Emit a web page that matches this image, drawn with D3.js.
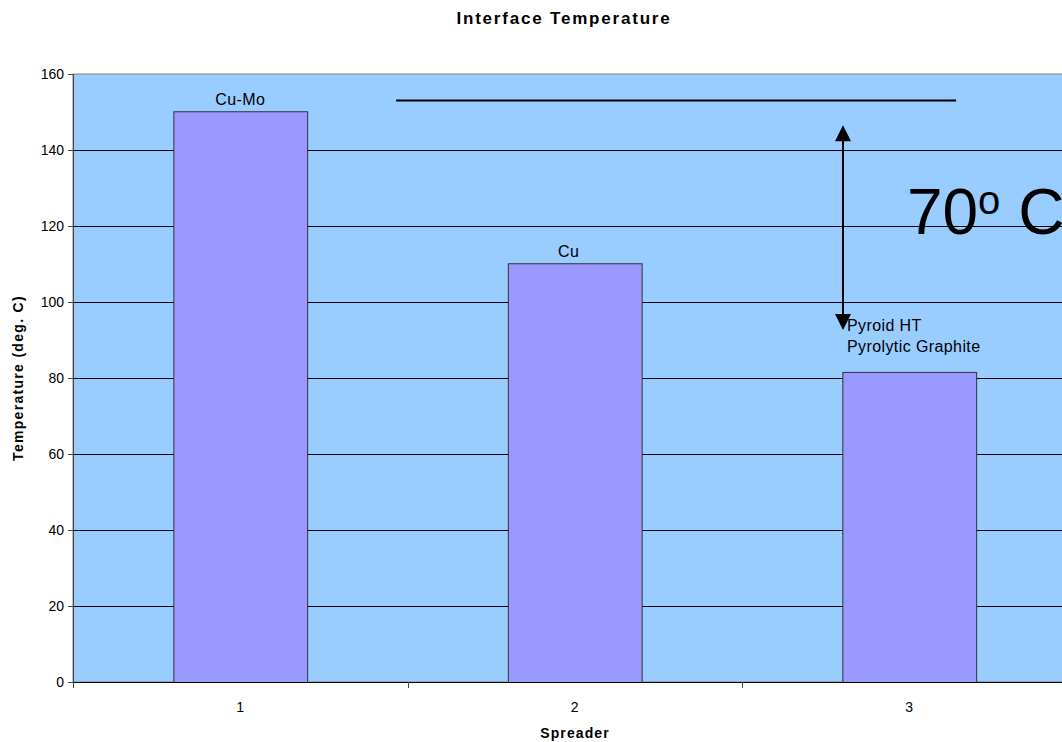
<!DOCTYPE html>
<html><head><meta charset="utf-8">
<script src="https://cdn.jsdelivr.net/npm/d3@7"></script>
<style>body{margin:0;background:#fff}svg{display:block;font-family:Arial,"Liberation Sans",sans-serif}</style>
</head><body>
<svg id="c" width="1062" height="742"></svg>
<script>
const categories = ["1","2","3"];
const values = [150.2, 110.2, 81.6];
const barLabels = [["Cu-Mo"],["Cu"],["Pyroid HT","Pyrolytic Graphite"]];
const yTicks = [0,20,40,60,80,100,120,140,160];
const refLineValue = 153;
const refLineSpan = [0.966, 2.64];
const arrowX = 2.302;
const arrowSpan = [146.5, 92.6];
const deltaText = {x: 2.493, y: 118, main: "70", sup: "o", unit: " C"};

const svg = d3.select("#c");
const m = {l:73, t:74, r:1076.5, b:682};
const x = d3.scaleBand().domain(categories).range([m.l, m.r]).paddingInner(0.6).paddingOuter(0.3);
const xb = d3.scaleBand().domain(categories).range([m.l, m.r]);
const xl = d3.scaleLinear().domain([0,3]).range([m.l, m.r]);
const y = d3.scaleLinear().domain([0,160]).range([m.b, m.t]);

svg.append("rect").attr("x",m.l).attr("y",m.t).attr("width",m.r-m.l).attr("height",m.b-m.t)
  .attr("fill","#99CCFF").attr("stroke","#808080").attr("stroke-width",1);

svg.append("g").selectAll("line").data(yTicks.filter(d=>d>0&&d<160)).join("line")
  .attr("x1",m.l).attr("x2",m.r).attr("y1",d=>y(d)+0.5).attr("y2",d=>y(d)+0.5)
  .attr("stroke","#000").attr("stroke-width",1);

svg.append("g").selectAll("rect").data(values).join("rect")
  .attr("x",(d,i)=>x(categories[i])+0.5).attr("y",d=>y(d)+0.5)
  .attr("width",x.bandwidth()).attr("height",d=>m.b-y(d))
  .attr("fill","#9999FF").attr("stroke","#333").attr("stroke-width",1);

// axes
const ya = svg.append("g").attr("transform",`translate(${m.l},0)`)
  .call(d3.axisLeft(y).tickValues(yTicks).tickSize(5).tickPadding(4));
ya.select(".domain").attr("stroke","#444");
ya.selectAll(".tick line").attr("stroke","#444");
ya.selectAll("text").attr("font-size",14).attr("fill","#000").attr("font-family","Arial,'Liberation Sans',sans-serif");

const xa = svg.append("g").attr("transform",`translate(0,${m.b})`);
xa.append("line").attr("x1",m.l).attr("x2",m.r).attr("y1",0.5).attr("y2",0.5).attr("stroke","#000");
xa.selectAll("line.t").data(categories.concat(["end"])).join("line").attr("class","t")
  .attr("x1",(d,i)=>Math.round(m.l+i*xb.bandwidth())+0.5).attr("x2",(d,i)=>Math.round(m.l+i*xb.bandwidth())+0.5)
  .attr("y1",0).attr("y2",6).attr("stroke","#444");
xa.selectAll("text").data(categories).join("text")
  .attr("x",d=>xb(d)+xb.bandwidth()/2).attr("y",30).attr("text-anchor","middle")
  .attr("font-size",14).text(d=>d);

// bar labels
values.forEach((v,i)=>{
  const lines = barLabels[i];
  const g = svg.append("text").attr("font-size",16).attr("letter-spacing",0.4).attr("fill","#000");
  if(lines.length===1){
    g.attr("x",x(categories[i])+x.bandwidth()/2 - (i===1?6:0)).attr("y",y(v)-6).attr("text-anchor","middle").text(lines[0]);
  } else {
    lines.forEach((t,j)=>g.append("tspan").attr("x",xl(arrowX)+4).attr("y",y(v)-41+j*21).text(t));
  }
});

// reference line
svg.append("line").attr("x1",xl(refLineSpan[0])).attr("x2",xl(refLineSpan[1]))
  .attr("y1",y(refLineValue)).attr("y2",y(refLineValue)).attr("stroke","#000").attr("stroke-width",2);

// double arrow
const ax = xl(arrowX), ay1 = y(arrowSpan[0]), ay2 = y(arrowSpan[1]);
svg.append("line").attr("x1",ax).attr("x2",ax).attr("y1",ay1+14).attr("y2",ay2-14).attr("stroke","#000").attr("stroke-width",2);
svg.append("path").attr("d",`M${ax},${ay1} L${ax-8},${ay1+16} L${ax+8},${ay1+16} Z`).attr("fill","#000");
svg.append("path").attr("d",`M${ax},${ay2} L${ax-8},${ay2-16} L${ax+8},${ay2-16} Z`).attr("fill","#000");

const dt = svg.append("text").attr("x",xl(deltaText.x)).attr("y",y(deltaText.y)).attr("font-size",64).attr("fill","#000");
dt.append("tspan").text(deltaText.main);
dt.append("tspan").attr("font-size",40).attr("dy",-20).text(deltaText.sup);
dt.append("tspan").attr("dy",20).text(deltaText.unit);

// titles
svg.append("text").attr("x",564).attr("y",24).attr("text-anchor","middle").attr("font-size",17).attr("letter-spacing",1.8).attr("font-weight","bold").text("Interface Temperature");
svg.append("text").attr("x",575).attr("y",738).attr("text-anchor","middle").attr("font-size",14).attr("letter-spacing",1.1).attr("font-weight","bold").text("Spreader");
svg.append("text").attr("transform","translate(23,378) rotate(-90)").attr("text-anchor","middle").attr("font-size",14).attr("letter-spacing",1.3).attr("font-weight","bold").text("Temperature (deg. C)");
</script>
</body></html>
